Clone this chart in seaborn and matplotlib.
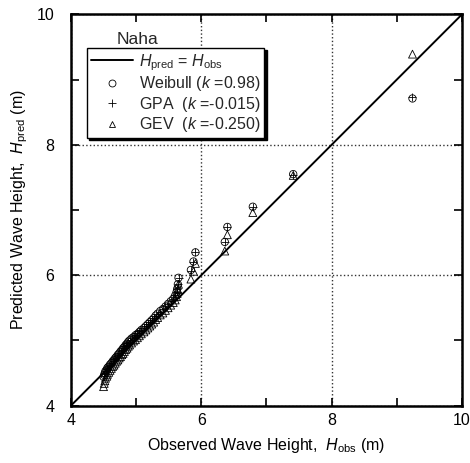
import numpy as np
import pandas as pd
import matplotlib
matplotlib.use('Agg')
import matplotlib.pyplot as plt
import seaborn as sns
from matplotlib.lines import Line2D
from matplotlib.ticker import MultipleLocator

# observed wave heights (sorted) and predicted values per distribution
h_obs = [4.50, 4.51, 4.52, 4.53, 4.55, 4.56, 4.58, 4.60, 4.62, 4.64,
         4.66, 4.68, 4.70, 4.72, 4.74, 4.76, 4.78, 4.80, 4.82, 4.84,
         4.86, 4.88, 4.90, 4.93, 4.96, 4.99, 5.02, 5.05, 5.08, 5.12,
         5.15, 5.18, 5.21, 5.24, 5.27, 5.30, 5.33, 5.37, 5.41, 5.45,
         5.49, 5.53, 5.57, 5.60, 5.62, 5.63, 5.64, 5.65, 5.84, 5.88,
         5.91, 6.36, 6.40, 6.79, 7.41, 9.24]
h_weibull = [4.44, 4.47, 4.50, 4.53, 4.55, 4.58, 4.60, 4.63, 4.65, 4.68,
             4.70, 4.73, 4.75, 4.78, 4.80, 4.83, 4.85, 4.88, 4.90, 4.93,
             4.95, 4.98, 5.00, 5.03, 5.05, 5.08, 5.10, 5.13, 5.16, 5.19,
             5.22, 5.25, 5.28, 5.31, 5.34, 5.38, 5.41, 5.45, 5.48, 5.52,
             5.56, 5.60, 5.64, 5.69, 5.74, 5.79, 5.86, 5.96, 6.08, 6.21,
             6.35, 6.51, 6.74, 7.05, 7.55, 8.71]
h_gpa = [4.45, 4.48, 4.50, 4.53, 4.56, 4.58, 4.61, 4.63, 4.66, 4.68,
         4.71, 4.73, 4.76, 4.78, 4.81, 4.83, 4.86, 4.88, 4.91, 4.93,
         4.96, 4.98, 5.01, 5.03, 5.06, 5.08, 5.11, 5.14, 5.16, 5.19,
         5.22, 5.25, 5.28, 5.31, 5.34, 5.38, 5.41, 5.44, 5.48, 5.52,
         5.56, 5.60, 5.64, 5.69, 5.74, 5.79, 5.86, 5.95, 6.07, 6.20,
         6.35, 6.51, 6.74, 7.05, 7.54, 8.73]
h_gev = [4.29, 4.34, 4.38, 4.42, 4.45, 4.48, 4.51, 4.54, 4.57, 4.60,
         4.62, 4.65, 4.68, 4.70, 4.73, 4.75, 4.78, 4.80, 4.83, 4.86,
         4.88, 4.91, 4.93, 4.96, 4.99, 5.01, 5.04, 5.07, 5.10, 5.13,
         5.16, 5.19, 5.22, 5.25, 5.28, 5.32, 5.35, 5.39, 5.42, 5.46,
         5.50, 5.54, 5.58, 5.62, 5.67, 5.72, 5.78, 5.86, 5.94, 6.06,
         6.18, 6.37, 6.62, 6.96, 7.53, 9.39]
lims = [4, 10]

df = pd.DataFrame({'obs': h_obs, 'weibull': h_weibull, 'gpa': h_gpa, 'gev': h_gev})

sns.set_theme(style='ticks')
plt.rcParams['font.family'] = ['Liberation Sans', 'DejaVu Sans']
plt.rcParams['mathtext.fontset'] = 'custom'
plt.rcParams['mathtext.rm'] = 'Liberation Sans'
plt.rcParams['mathtext.it'] = 'Liberation Sans:italic'

fig = plt.figure(figsize=(4.7, 4.63), dpi=100)
ax = fig.add_axes([0.151, 0.124, 0.832, 0.845])

sns.scatterplot(data=df, x='obs', y='weibull', marker='o', s=28, facecolor='none',
                edgecolor='black', linewidth=0.6, ax=ax, zorder=3)
sns.scatterplot(data=df, x='obs', y='gpa', marker='+', s=36, color='black',
                linewidth=0.6, ax=ax, zorder=3)
sns.scatterplot(data=df, x='obs', y='gev', marker='^', s=32, facecolor='none',
                edgecolor='black', linewidth=0.6, ax=ax, zorder=3)
ax.plot(lims, lims, color='black', lw=1.4, zorder=4)

ax.set_xlim(lims)
ax.set_ylim(lims)
ax.xaxis.set_major_locator(MultipleLocator(2))
ax.yaxis.set_major_locator(MultipleLocator(2))
ax.xaxis.set_minor_locator(MultipleLocator(1))
ax.yaxis.set_minor_locator(MultipleLocator(1))
ax.tick_params(which='both', direction='in', top=True, right=True, length=6,
               width=1.2, color='black', labelsize=11.5, labelcolor='black')
ax.tick_params(axis='x', pad=5)
ax.tick_params(axis='y', pad=12)
ax.grid(True, which='major', linestyle=':', color='#333333', lw=1.0)
for sp in ax.spines.values():
    sp.set_linewidth(1.8)
    sp.set_color('black')

ax.set_xlabel(r'Observed Wave Height,  $H_{\rm obs}$ (m)', fontsize=11.5, color='black', labelpad=6)
ax.set_ylabel(r'Predicted Wave Height,  $H_{\rm pred}$ (m)', fontsize=11.5, color='black', labelpad=5)

ax.text(0.118, 0.937, 'Naha', transform=ax.transAxes, fontsize=12.5, ha='left', va='center')

handles = [
    Line2D([], [], color='black', lw=1.4),
    Line2D([], [], ls='none', marker='o', mfc='none', mec='black', ms=5, mew=0.6),
    Line2D([], [], ls='none', marker='+', color='black', ms=6, mew=0.6),
    Line2D([], [], ls='none', marker='^', mfc='none', mec='black', ms=5, mew=0.6),
]
labels = [r'$H_{\rm pred}$ = $H_{\rm obs}$',
          r'Weibull ($k$ =0.98)',
          r'GPA  ($k$ =-0.015)',
          r'GEV  ($k$ =-0.250)']
leg = ax.legend(handles, labels, loc='upper left', bbox_to_anchor=(0.041, 0.914),
                borderaxespad=0, fontsize=11.5, frameon=True, fancybox=False,
                edgecolor='black', framealpha=1, handlelength=2.6, handletextpad=0.4,
                labelspacing=0.1, borderpad=0.25,
                shadow={'color': 'black', 'alpha': 1, 'ox': 1.5, 'oy': -1.5})
leg.get_frame().set_linewidth(1.0)

fig.savefig('out.png', dpi=100)
